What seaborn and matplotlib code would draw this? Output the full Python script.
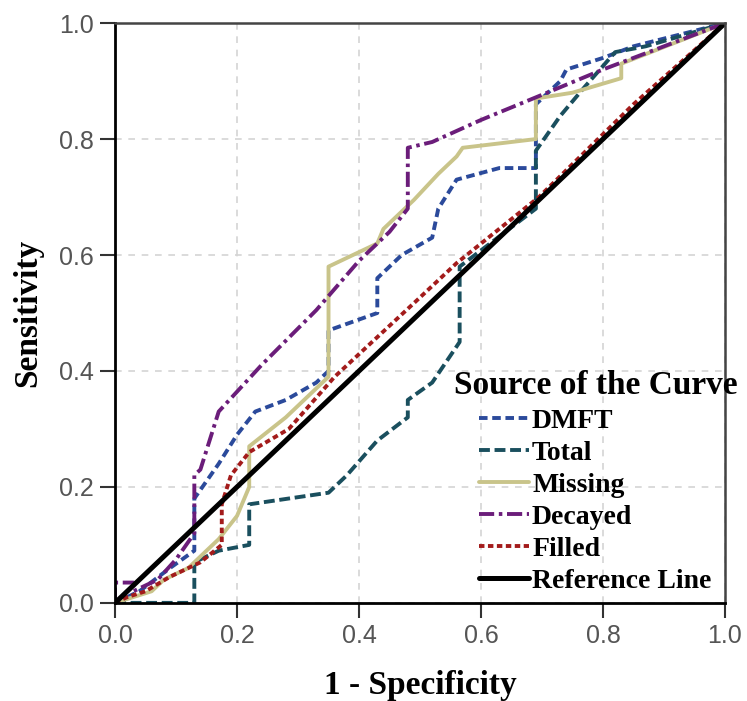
import numpy as np
import pandas as pd
import seaborn as sns
import matplotlib.pyplot as plt

# ROC curves
dmft_x = [0, 0.04, 0.09, 0.13, 0.13, 0.15, 0.17, 0.20, 0.23, 0.28, 0.33, 0.35, 0.35, 0.43, 0.43,
          0.47, 0.52, 0.53, 0.56, 0.63, 0.69, 0.69, 0.73, 0.74, 0.80, 0.85, 1.0]
dmft_y = [0, 0.02, 0.06, 0.09, 0.18, 0.21, 0.24, 0.29, 0.33, 0.35, 0.38, 0.40, 0.47, 0.50, 0.56,
          0.60, 0.63, 0.68, 0.73, 0.75, 0.75, 0.86, 0.90, 0.92, 0.94, 0.96, 1.0]

total_x = [0, 0.13, 0.13, 0.17, 0.22, 0.22, 0.35, 0.38, 0.43, 0.48, 0.48, 0.52, 0.565, 0.565,
           0.69, 0.69, 0.73, 0.77, 0.82, 0.87, 1.0]
total_y = [0, 0, 0.07, 0.09, 0.10, 0.17, 0.19, 0.22, 0.28, 0.32, 0.35, 0.38, 0.45, 0.58,
           0.68, 0.78, 0.84, 0.89, 0.95, 0.96, 1.0]

missing_x = [0, 0.06, 0.08, 0.12, 0.17, 0.20, 0.22, 0.22, 0.28, 0.35, 0.35, 0.41, 0.43, 0.44,
             0.49, 0.53, 0.56, 0.57, 0.69, 0.69, 0.75, 0.83, 0.83, 1.0]
missing_y = [0, 0.02, 0.04, 0.06, 0.11, 0.15, 0.20, 0.27, 0.32, 0.39, 0.58, 0.61, 0.62, 0.645,
             0.695, 0.74, 0.77, 0.785, 0.80, 0.87, 0.88, 0.905, 0.93, 1.0]

decayed_x = [0, 0, 0.03, 0.03, 0.07, 0.10, 0.13, 0.13, 0.14, 0.17, 0.24, 0.33, 0.40, 0.45,
             0.48, 0.48, 0.52, 0.60, 0.69, 0.80, 1.0]
decayed_y = [0, 0.035, 0.035, 0.02, 0.04, 0.075, 0.12, 0.22, 0.23, 0.33, 0.41, 0.505, 0.59, 0.64,
             0.68, 0.785, 0.795, 0.833, 0.872, 0.92, 1.0]

filled_x = [0, 0.02, 0.05, 0.09, 0.14, 0.175, 0.175, 0.19, 0.22, 0.285, 0.36, 0.49, 0.56, 0.695, 0.85, 1.0]
filled_y = [0, 0.01, 0.02, 0.045, 0.07, 0.10, 0.17, 0.22, 0.26, 0.30, 0.39, 0.517, 0.586, 0.70, 0.86, 1.0]

ref_x = [0, 1]
ref_y = [0, 1]

curves = [
    ('DMFT', dmft_x, dmft_y, '#2b4a9b', (0, (2.2, 1.2)), 2.8),
    ('Total', total_x, total_y, '#1a4f5e', (0, (2.8, 1.2)), 2.8),
    ('Missing', missing_x, missing_y, '#c9c48a', '-', 2.8),
    ('Decayed', decayed_x, decayed_y, '#6b1d7a', (0, (3.9, 1.2, 0.9, 1.2)), 2.8),
    ('Filled', filled_x, filled_y, '#a31b1b', (0, (1.4, 0.9)), 2.8),
    ('Reference Line', ref_x, ref_y, 'black', '-', 3.6),
]

sns.set_theme(style='whitegrid')
plt.rcParams['font.family'] = ['Liberation Serif', 'DejaVu Serif']
plt.rcParams['text.color'] = 'black'

fig = plt.figure(figsize=(7.47, 7.01), dpi=100)
ax = fig.add_axes([0.154, 0.14, 0.8165, 0.827])

for name, xs, ys, col, ls, lw in curves:
    df = pd.DataFrame({'x': xs, 'y': ys})
    sns.lineplot(data=df, x='x', y='y', sort=False, estimator=None, color=col,
                 linestyle=ls, linewidth=lw, label=name, ax=ax)

ax.set_xlim(0, 1)
ax.set_ylim(0, 1)
ticks = [0, 0.2, 0.4, 0.6, 0.8, 1.0]
tick_labels = ['0.0', '0.2', '0.4', '0.6', '0.8', '1.0']
ax.set_xticks(ticks, labels=tick_labels, fontfamily='Liberation Sans')
ax.set_yticks(ticks, labels=tick_labels, fontfamily='Liberation Sans')
ax.tick_params(bottom=True, left=True, direction='out', length=11, width=1.5,
               color='#333333', labelsize=18, labelcolor='#555555', pad=4)

ax.grid(True, color='#d4d4d4', linestyle=(0, (4, 4)), linewidth=1.2)
for s in ['left', 'bottom']:
    ax.spines[s].set_color('black')
    ax.spines[s].set_linewidth(2)
for s in ['top', 'right']:
    ax.spines[s].set_color('#444444')
    ax.spines[s].set_linewidth(1.8)

ax.set_xlabel('1 - Specificity', fontsize=24, fontweight='bold', color='black')
ax.set_ylabel('Sensitivity', fontsize=24, fontweight='bold', color='black')
ax.xaxis.set_label_coords(0.5, -0.115)
ax.yaxis.set_label_coords(-0.118, 0.5)

leg = ax.legend(title='Source of the Curve', loc='center', bbox_to_anchor=(0.797, 0.312),
                bbox_transform=fig.transFigure, frameon=False,
                prop={'weight': 'bold', 'size': 20},
                title_fontproperties={'weight': 'bold', 'size': 24},
                handlelength=1.8, handletextpad=0.1, labelspacing=0.24, borderpad=0)
leg.get_title().set_color('black')
for t in leg.get_texts():
    t.set_color('black')

fig.savefig('out.png', dpi=100)
